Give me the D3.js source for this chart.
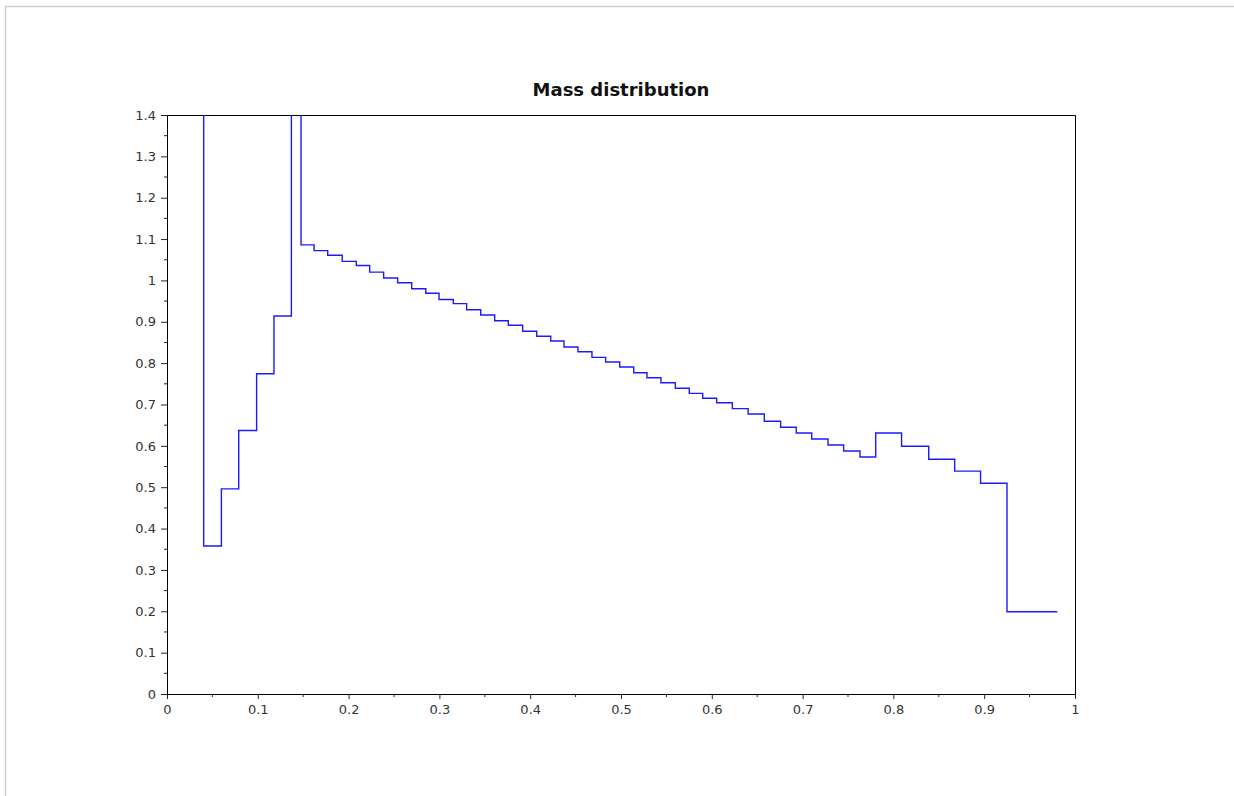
<!DOCTYPE html>
<html>
<head>
<meta charset="utf-8">
<script src="https://cdn.jsdelivr.net/npm/d3@7"></script>
<style>
  html, body { margin: 0; padding: 0; background: #fff; }
  svg { display: block; }
  .tick text { font-family: "DejaVu Sans", sans-serif; font-size: 13px; fill: #333; }
  .title { font-family: "DejaVu Sans", sans-serif; font-size: 18px; font-weight: bold; fill: #111; }
</style>
</head>
<body>
<div id="viz-container"></div>
<script>
// step edges (bin boundaries)
const edges = [0.021, 0.0404, 0.0599, 0.079, 0.0987, 0.1178, 0.137, 0.1476, 0.162, 0.177,
  0.193, 0.2085, 0.2232, 0.2386, 0.254, 0.2695, 0.285, 0.2996, 0.3153, 0.330, 0.3455,
  0.3609, 0.3759, 0.3917, 0.4072, 0.4226, 0.4372, 0.4526, 0.468, 0.4831, 0.4986, 0.514,
  0.5286, 0.544, 0.5598, 0.5752, 0.59, 0.6054, 0.6226, 0.640, 0.6578, 0.6758, 0.693,
  0.710, 0.728, 0.7452, 0.7632, 0.7805, 0.809, 0.8389, 0.8675, 0.896, 0.9251, 0.9805];

// value of each bin (first and the one at ~0.14 go off the top of the chart)
const massValues = [3.5, 0.358, 0.496, 0.637, 0.7745, 0.914, 3.5, 1.086, 1.072, 1.061,
  1.046, 1.036, 1.020, 1.006, 0.9945, 0.980, 0.969, 0.954, 0.944, 0.929, 0.9165,
  0.9025, 0.8915, 0.877, 0.865, 0.8535, 0.839, 0.8277, 0.814, 0.8028, 0.7907, 0.7769,
  0.7648, 0.7527, 0.7392, 0.727, 0.715, 0.7044, 0.690, 0.677, 0.6594, 0.6449, 0.631,
  0.6166, 0.602, 0.5876, 0.573, 0.631, 0.599, 0.5675, 0.539, 0.5095, 0.199];

const xTicks = d3.range(0, 1.0001, 0.1);
const yTicks = d3.range(0, 1.4001, 0.1);
const xMinor = d3.range(0.05, 1, 0.1);
const yMinor = d3.range(0.05, 1.4, 0.1);

const width = 1234, height = 796;
const mLeft = 167, mRight = 1075, mTop = 115, mBottom = 694;

const svg = d3.select("#viz-container").append("svg")
  .attr("width", width)
  .attr("height", height);

// light grey frame of the window
svg.append("path")
  .attr("d", `M5.5,${height} V6.5 H${width}`)
  .attr("fill", "none")
  .attr("stroke", "#cfcfcf")
  .attr("stroke-width", 1.6);

const x = d3.scaleLinear().domain([0, 1]).range([mLeft, mRight]);
const y = d3.scaleLinear().domain([0, 1.4]).range([mBottom, mTop]);

const fmt = d => d === 0 ? "0" : (Math.abs(d - 1) < 1e-9 ? "1" : d3.format(".1f")(d));

// x axis
const xAxis = svg.append("g")
  .attr("transform", `translate(0,${mBottom})`)
  .call(d3.axisBottom(x).tickValues(xTicks).tickFormat(fmt).tickSize(5).tickPadding(6));
xAxis.selectAll("line").attr("stroke", "#222");
xAxis.select(".domain").attr("stroke", "#000");
xAxis.selectAll(".minor").data(xMinor).enter().append("line")
  .attr("class", "minor")
  .attr("x1", d => x(d)).attr("x2", d => x(d))
  .attr("y1", 0).attr("y2", 3)
  .attr("stroke", "#222");

// y axis
const yAxis = svg.append("g")
  .attr("transform", `translate(${mLeft},0)`)
  .call(d3.axisLeft(y).tickValues(yTicks).tickFormat(fmt).tickSize(6).tickPadding(5));
yAxis.selectAll("line").attr("stroke", "#222");
yAxis.select(".domain").attr("stroke", "#000");
yAxis.selectAll(".minor").data(yMinor).enter().append("line")
  .attr("class", "minor")
  .attr("x1", 0).attr("x2", -3)
  .attr("y1", d => y(d)).attr("y2", d => y(d))
  .attr("stroke", "#222");

// top and right sides of the box
svg.append("path")
  .attr("d", `M${mLeft},${mTop + 0.5} H${mRight + 0.5} V${mBottom}`)
  .attr("fill", "none")
  .attr("stroke", "#000");

// clip the curve to the plot box
svg.append("clipPath").attr("id", "plotClip")
  .append("rect")
  .attr("x", mLeft).attr("y", mTop)
  .attr("width", mRight - mLeft).attr("height", mBottom - mTop);

// step curve: each bin drawn from its left edge to its right edge
const pts = [];
massValues.forEach((v, i) => {
  pts.push([edges[i], v]);
  pts.push([edges[i + 1], v]);
});

const line = d3.line()
  .x(d => x(d[0]))
  .y(d => y(d[1]));

svg.append("path")
  .datum(pts)
  .attr("clip-path", "url(#plotClip)")
  .attr("d", line)
  .attr("fill", "none")
  .attr("stroke", "#1a1aff")
  .attr("stroke-width", 1.4);

svg.append("text")
  .attr("class", "title")
  .attr("x", (mLeft + mRight) / 2)
  .attr("y", 96)
  .attr("text-anchor", "middle")
  .text("Mass distribution");
</script>
</body>
</html>
